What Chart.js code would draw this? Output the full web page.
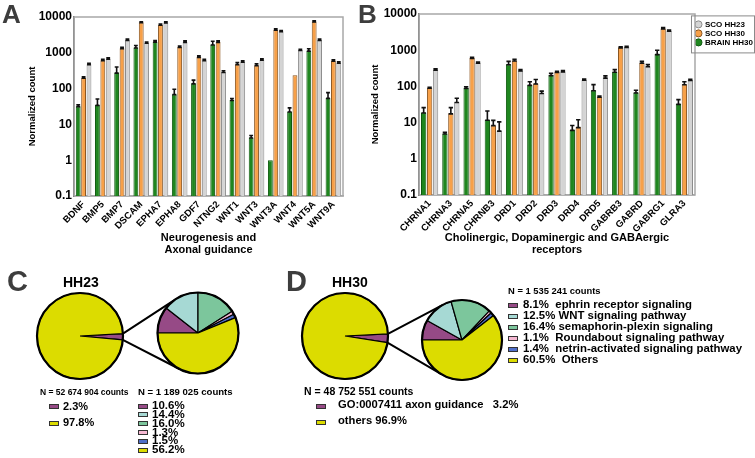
<!DOCTYPE html>
<html>
<head>
<meta charset="utf-8">
<script src="https://cdn.jsdelivr.net/npm/chart.js@4.4.0/dist/chart.umd.min.js"></script>
<style>
body{margin:0;background:#fff;}
#fig{position:relative;width:755px;height:458px;overflow:hidden;background:#fff;font-family:"Liberation Sans",Arial,sans-serif;color:#000;}
canvas{position:absolute;}
.t{position:absolute;white-space:pre;line-height:1;font-weight:bold;}
.mk{position:absolute;border:1px solid #333;box-sizing:border-box;}
</style>
</head>
<body>
<div id="fig">
<canvas id="cA" width="365" height="260" style="left:0px;top:0px"></canvas>
<canvas id="cB" width="400" height="260" style="left:365px;top:0px"></canvas>
<canvas id="links" width="755" height="458" style="left:0px;top:0px"></canvas>
<canvas id="pC1" width="100" height="100" style="left:30px;top:286px"></canvas>
<canvas id="pC2" width="100" height="100" style="left:148px;top:283px"></canvas>
<canvas id="pD1" width="100" height="100" style="left:295px;top:286px"></canvas>
<canvas id="pD2" width="100" height="100" style="left:412px;top:290px"></canvas>
</div>
<script>
// panel A - neurogenesis / axonal guidance
const genesA = ['BDNF','BMP5','BMP7','DSCAM','EPHA7','EPHA8','GDF7','NTNG2','WNT1','WNT3','WNT3A','WNT4','WNT5A','WNT9A'];
const brainA    = [32, 35, 280, 1400, 2050, 70, 140, 1700, 48, 4.3, 1, 23, 1150, 55];
const brainAErr = [3, 16, 120, 200, 150, 26, 33, 400, 5, 0.6, 0, 6, 150, 22];
const hh30A     = [200, 620, 1350, 7100, 6100, 1450, 760, 2000, 480, 450, 4400, 235, 7500, 600];
const hh30AErr  = [15, 40, 80, 300, 300, 100, 60, 150, 50, 40, 250, 0, 300, 40];
const hh23A     = [480, 680, 2300, 1900, 7000, 2000, 620, 290, 560, 640, 4000, 1200, 2300, 530];
const hh23AErr  = [30, 40, 120, 100, 400, 150, 40, 25, 40, 40, 200, 60, 120, 30];

// panel B - receptors
const genesB = ['CHRNA1','CHRNA3','CHRNA5','CHRNB3','DRD1','DRD2','DRD3','DRD4','DRD5','GABRB3','GABRD','GABRG1','GLRA3'];
const brainB    = [19, 5, 90, 12, 410, 110, 205, 6.3, 78, 255, 68, 780, 33];
const brainBErr = [7, 0.4, 8, 9, 80, 25, 25, 2, 34, 35, 10, 220, 10];
const hh30B     = [92, 18, 610, 8.5, 520, 120, 250, 7.5, 52, 1200, 450, 4000, 115];
const hh30BErr  = [3, 8, 30, 3, 40, 35, 10, 4.5, 2, 50, 40, 200, 20];
const hh23B     = [290, 37, 450, 6, 275, 66, 260, 152, 175, 1230, 360, 3450, 150];
const hh23BErr  = [15, 10, 20, 4.5, 15, 8, 15, 8, 20, 50, 40, 150, 8];

const yTicks = [0.1, 1, 10, 100, 1000, 10000];

// panels C / D - pies
const bigC = [2.3, 97.8];
const smallC = [10.6, 14.4, 16.0, 1.3, 1.5, 56.2];
const bigD = [3.2, 96.9];
const bigDLabels = ['GO:0007411 axon guidance   ', 'others '];
const smallD = [8.1, 12.5, 16.4, 1.1, 1.4, 60.5];
const smallDLabels = ['ephrin receptor signaling','WNT signaling pathway','semaphorin-plexin signaling','Roundabout signaling pathway','netrin-activated signaling pathway',' Others'];
const countC = ['N = 52 674 904 counts', 'N = 1 189 025 counts'];
const countD = ['N = 48 752 551 counts', 'N = 1 535 241 counts'];

const F = '"Liberation Sans", Arial, sans-serif';
Chart.defaults.font.family = F;
Chart.defaults.color = '#000';

const bigCols = ['#964a86', '#dcdc00'];
const smallCols = ['#964a86', '#a6d9d4', '#7cc69c', '#f5b8d2', '#4f6fca', '#dcdc00'];

const errBars = {
  id: 'errBars',
  afterDatasetsDraw(chart) {
    const ctx = chart.ctx, y = chart.scales.y;
    ctx.save();
    ctx.strokeStyle = '#111';
    ctx.lineWidth = 1.6;
    chart.data.datasets.forEach((ds, i) => {
      chart.getDatasetMeta(i).data.forEach((bar, j) => {
        const e = ds.errs[j];
        if (!e) return;
        const top = y.getPixelForValue(ds.data[j] + e);
        const w = bar.width / 2 - 0.5;
        ctx.beginPath();
        ctx.moveTo(bar.x, bar.y); ctx.lineTo(bar.x, top);
        ctx.moveTo(bar.x - w, top); ctx.lineTo(bar.x + w, top);
        ctx.moveTo(bar.x - w, bar.y + 0.5); ctx.lineTo(bar.x + w, bar.y + 0.5);
        ctx.stroke();
      });
    });
    ctx.restore();
  }
};

const frame = {
  id: 'frame',
  beforeDatasetsDraw(chart) {
    const a = chart.chartArea, ctx = chart.ctx;
    ctx.save();
    ctx.strokeStyle = '#a8a8a8';
    ctx.lineWidth = 1.5;
    ctx.strokeRect(a.left, a.top, a.right - a.left, a.bottom - a.top);
    ctx.restore();
  }
};

const legendBox = {
  id: 'legendBox',
  afterDraw(chart) {
    const hb = chart.legend && chart.legend.legendHitBoxes;
    if (!hb || !hb.length) return;
    const l = Math.min(...hb.map(h => h.left)), t = Math.min(...hb.map(h => h.top));
    const b = Math.max(...hb.map(h => h.top + h.height));
    const ctx = chart.ctx;
    ctx.save();
    ctx.strokeStyle = '#8a8a8a';
    ctx.lineWidth = 1;
    ctx.strokeRect(l - 4.5, t - 4.5, chart.width - 10.5 - (l - 4.5), b - t + 11);
    ctx.restore();
  }
};

function barChart(id, genes, sets, xTitle, pad, yWidth, xHeight, showLegend) {
  return new Chart(document.getElementById(id), {
    type: 'bar',
    data: {
      labels: genes,
      datasets: [
        { label: 'BRAIN HH30', data: sets[0], errs: sets[1], backgroundColor: '#1f861f', borderColor: '#0f5a0f', borderWidth: 1 },
        { label: 'SCO HH30', data: sets[2], errs: sets[3], backgroundColor: '#f7a048', borderColor: '#8a5520', borderWidth: 1 },
        { label: 'SCO HH23', data: sets[4], errs: sets[5], backgroundColor: '#d4d4d4', borderColor: '#8c8c8c', borderWidth: 1 }
      ]
    },
    options: {
      responsive: false,
      animation: false,
      events: [],
      layout: { padding: pad },
      datasets: { bar: { categoryPercentage: 0.84, barPercentage: 0.9 } },
      plugins: {
        tooltip: { enabled: false },
        legend: {
          display: showLegend,
          position: 'right',
          align: 'start',
          reverse: true,
          title: { display: true, text: ' ', padding: { top: 3, bottom: 0 }, font: { size: 2 } },
          labels: { usePointStyle: true, pointStyle: 'circle', boxWidth: 5, boxHeight: 5, padding: 1, color: '#000', font: { size: 8, weight: 'bold' } }
        }
      },
      scales: {
        x: {
          grid: { display: false, drawTicks: false, tickLength: 0 },
          border: { color: '#a8a8a8', width: 1.5 },
          ticks: { autoSkip: false, maxRotation: 45, minRotation: 45, padding: 3, color: '#000', font: { size: 9.5, weight: 'bold' } },
          title: { display: true, text: xTitle, color: '#000', padding: { top: 0, bottom: 2 }, font: { size: 11, weight: 'bold', lineHeight: 1.1 } },
          afterFit: s => { s.height = xHeight; }
        },
        y: {
          type: 'logarithmic',
          min: 0.1,
          max: 10000,
          afterBuildTicks: s => { s.ticks = yTicks.map(v => ({ value: v })); },
          grid: { display: false, drawTicks: false, tickLength: 0 },
          border: { color: '#555', width: 1.5 },
          ticks: { callback: v => String(v), padding: 2, color: '#000', font: { size: 12, weight: 'bold' } },
          title: { display: true, text: 'Normalized count', color: '#000', font: { size: 9.5, weight: 'bold' } },
          afterFit: s => { s.width = yWidth; }
        }
      }
    },
    plugins: [frame, errBars, legendBox]
  });
}

barChart('cA', genesA, [brainA, brainAErr, hh30A, hh30AErr, hh23A, hh23AErr],
  ['Neurogenesis and', 'Axonal guidance'], { left: 23, right: 22, top: 17, bottom: 2 }, 51, 62, false);
barChart('cB', genesB, [brainB, brainBErr, hh30B, hh30BErr, hh23B, hh23BErr],
  ['Cholinergic, Dopaminergic and GABAergic', 'receptors'], { left: 1, right: 2, top: 14, bottom: 2 }, 53, 63, true);

const ring = {
  id: 'ring',
  afterDatasetsDraw(chart) {
    const a = chart.getDatasetMeta(0).data[0], ctx = chart.ctx;
    ctx.save();
    ctx.strokeStyle = '#000';
    ctx.lineWidth = 2.2;
    ctx.beginPath();
    ctx.arc(a.x, a.y, a.outerRadius, 0, Math.PI * 2);
    ctx.stroke();
    ctx.restore();
  }
};

function pie(id, vals, cols, rot, r) {
  return new Chart(document.getElementById(id), {
    type: 'pie',
    data: { labels: vals.map(String), datasets: [{ data: vals, backgroundColor: cols, borderColor: '#000', borderWidth: 1.2 }] },
    options: {
      responsive: false, animation: false, events: [],
      rotation: rot, radius: r,
      plugins: { legend: { display: false }, tooltip: { enabled: false } }
    },
    plugins: [ring]
  });
}

const c1 = pie('pC1', bigC, bigCols, 91 - bigC[0] * 1.8, 43);
const c2 = pie('pC2', smallC, smallCols, -90, 40.5);
const d1 = pie('pD1', bigD, bigCols, 93 - bigD[0] * 1.8, 43);
const d2 = pie('pD2', smallD, smallCols, -90, 40);

// zoom lines from the purple slice of the big pie to the small pie
function tangent(p, cx, cy, r, upper) {
  const dx = p[0] - cx, dy = p[1] - cy, d = Math.hypot(dx, dy);
  const th = Math.atan2(dy, dx), al = Math.acos(r / d);
  const q1 = [cx + r * Math.cos(th + al), cy + r * Math.sin(th + al)];
  const q2 = [cx + r * Math.cos(th - al), cy + r * Math.sin(th - al)];
  return (upper ? q1[1] < q2[1] : q1[1] > q2[1]) ? q1 : q2;
}
function link(big, small) {
  const ctx = document.getElementById('links').getContext('2d');
  const a = big.getDatasetMeta(0).data[0], b = small.getDatasetMeta(0).data[0];
  const ax = a.x + big.canvas.offsetLeft, ay = a.y + big.canvas.offsetTop;
  const bx = b.x + small.canvas.offsetLeft, by = b.y + small.canvas.offsetTop;
  const p1 = [ax + a.outerRadius * Math.cos(a.startAngle), ay + a.outerRadius * Math.sin(a.startAngle)];
  const p2 = [ax + a.outerRadius * Math.cos(a.endAngle), ay + a.outerRadius * Math.sin(a.endAngle)];
  const q1 = tangent(p1, bx, by, b.outerRadius, true), q2 = tangent(p2, bx, by, b.outerRadius, false);
  ctx.strokeStyle = '#000';
  ctx.lineWidth = 2;
  ctx.beginPath();
  ctx.moveTo(p1[0], p1[1]); ctx.lineTo(q1[0], q1[1]);
  ctx.moveTo(p2[0], p2[1]); ctx.lineTo(q2[0], q2[1]);
  ctx.stroke();
}
link(c1, c2);
link(d1, d2);

// texts
const fig = document.getElementById('fig');
function txt(x, base, text, size, color) {
  const d = document.createElement('div');
  d.className = 't';
  d.textContent = text;
  d.style.left = x + 'px';
  d.style.top = (base - 0.8465 * size) + 'px';
  d.style.fontSize = size + 'px';
  if (color) d.style.color = color;
  fig.appendChild(d);
}
function mark(x, yc, color) {
  const d = document.createElement('div');
  d.className = 'mk';
  d.style.left = x + 'px';
  d.style.top = (yc - 2.5) + 'px';
  d.style.width = '10px';
  d.style.height = '5px';
  d.style.background = color;
  fig.appendChild(d);
}

txt(2, 23, 'A', 26, '#3d3d3d');
txt(358, 23, 'B', 26, '#3d3d3d');
txt(7, 292, 'C', 29, '#3d3d3d');
txt(286, 292, 'D', 29, '#3d3d3d');
txt(63, 286.5, 'HH23', 14);
txt(332, 286.5, 'HH30', 14);

txt(40, 395, countC[0], 8.5);
bigC.forEach((v, i) => { mark(49, 406.5 + i * 16.5, bigCols[i]); txt(63, 410 + i * 16.5, v.toFixed(1) + '%', 11); });

txt(138, 395, countC[1], 9.6);
smallC.forEach((v, i) => { mark(138, 406 + i * 8.8, smallCols[i]); txt(152, 410 + i * 8.8, v.toFixed(1) + '%', 11.5); });

txt(304, 395, countD[0], 10.5);
bigD.forEach((v, i) => { mark(316, 406.5 + i * 15.5, bigCols[i]); txt(338, 408 + i * 16, bigDLabels[i] + v.toFixed(1) + '%', 11.2); });

txt(508, 294, countD[1], 9.4);
smallD.forEach((v, i) => {
  mark(508, 305 + i * 11.1, smallCols[i]);
  txt(523, 308.5 + i * 11.1, v.toFixed(1) + '%' + (v < 10 ? '  ' : ' ') + smallDLabels[i], 11.4);
});
</script>
</body>
</html>
